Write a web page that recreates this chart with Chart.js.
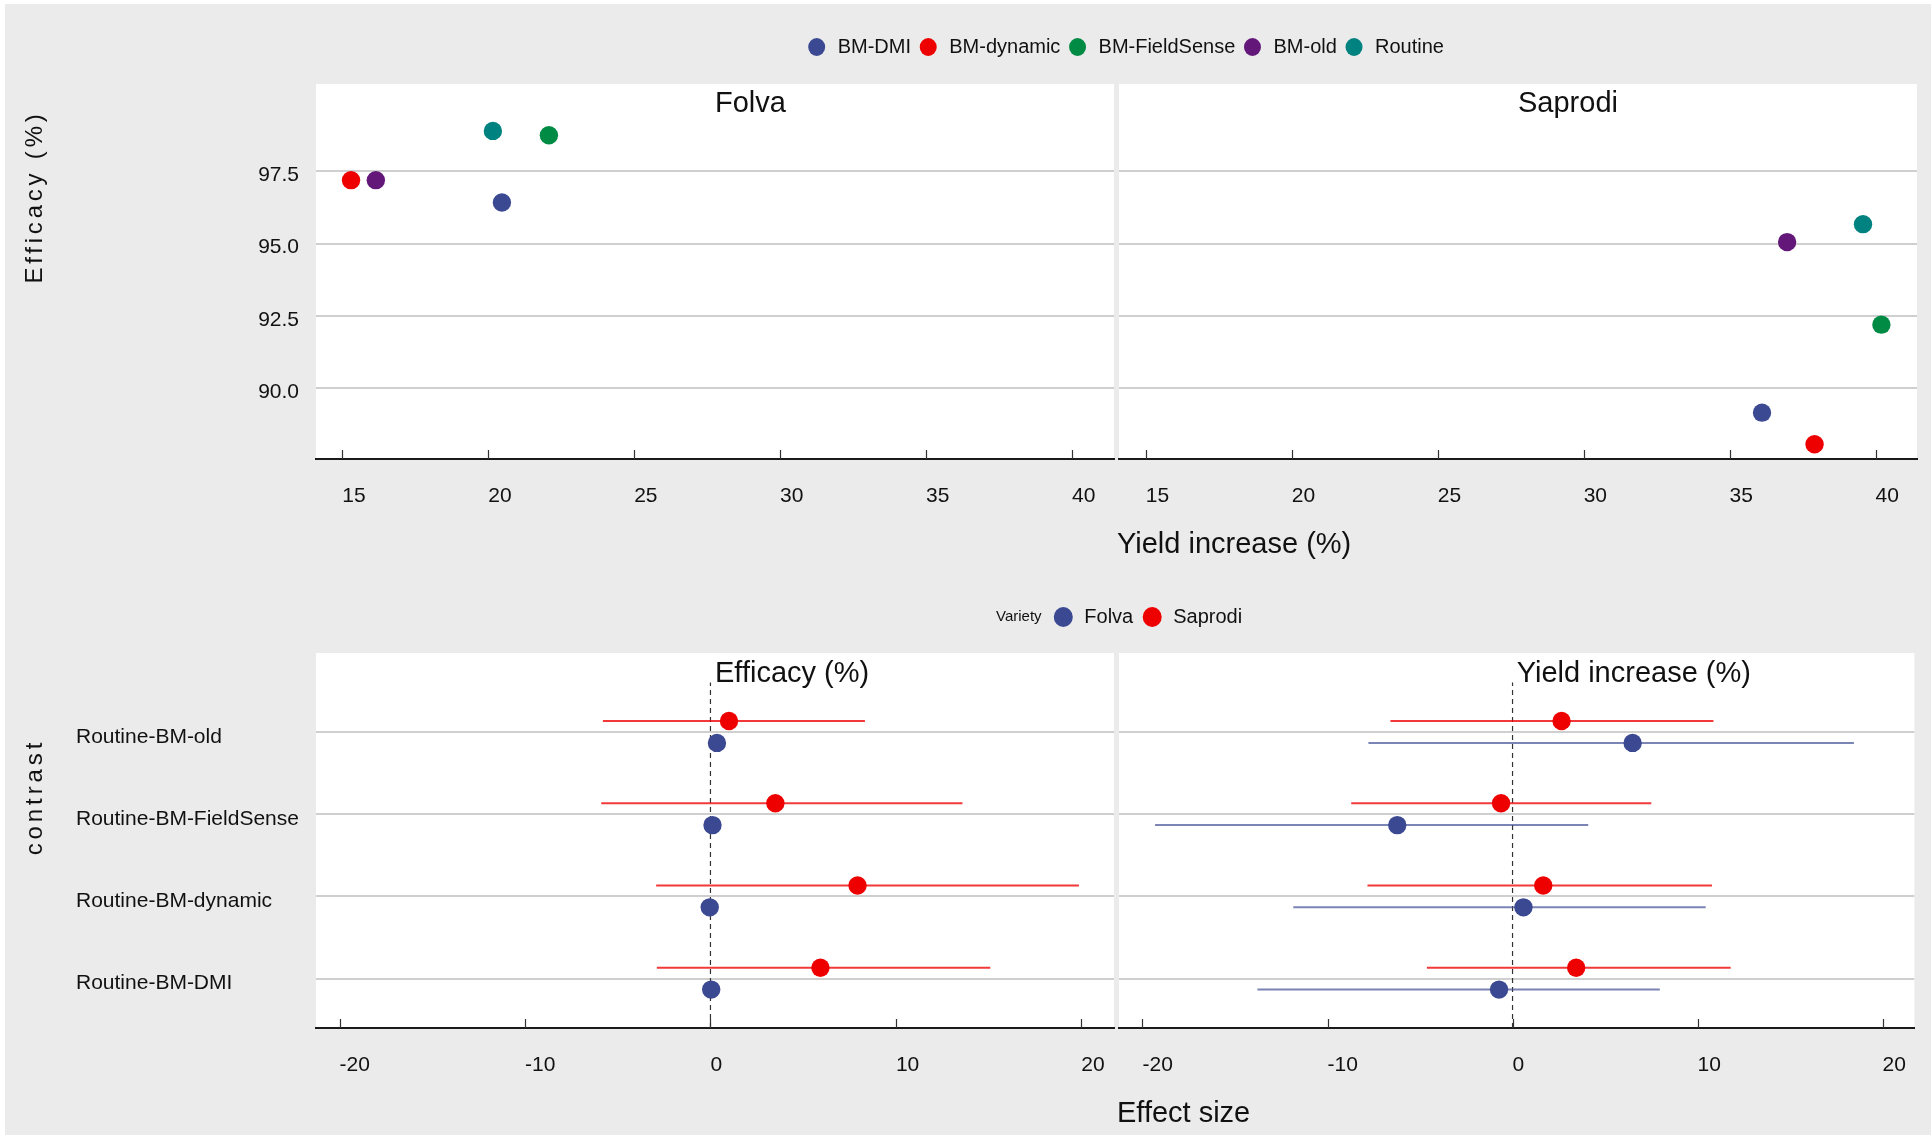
<!DOCTYPE html>
<html>
<head>
<meta charset="utf-8">
<script src="https://cdn.jsdelivr.net/npm/chart.js@4.4.1/dist/chart.umd.min.js"></script>
<style>
html,body{margin:0;padding:0;background:#ffffff;overflow:hidden;}
#wrap{position:relative;width:1931px;height:1135px;background:#ffffff;}
#bg{position:absolute;left:5px;top:4px;right:0;bottom:0;background:#EBEBEB;}
canvas{position:absolute;left:0;}
</style>
</head>
<body>
<div id="wrap">
<div id="bg"></div>
<canvas id="cTL" width="1931" height="580" style="top:0px"></canvas>
<canvas id="cTR" width="1931" height="580" style="top:0px"></canvas>
<canvas id="cBL" width="1931" height="555" style="top:580px"></canvas>
<canvas id="cBR" width="1931" height="555" style="top:580px"></canvas>
</div>
<script>
// ---------------- data ----------------
const treatments = ['BM-DMI', 'BM-dynamic', 'BM-FieldSense', 'BM-old', 'Routine'];
const varieties = ['Folva', 'Saprodi'];
const folvaYield = [20.47, 15.3, 22.08, 16.15, 20.16];
const folvaEfficacy = [96.42, 97.19, 98.74, 97.19, 98.89];
const saprodiYield = [36.11, 37.91, 40.2, 36.97, 39.57];
const saprodiEfficacy = [89.16, 88.07, 92.2, 95.05, 95.67];
const yieldTicks = [15, 20, 25, 30, 35, 40];
const efficacyTicks = [90.0, 92.5, 95.0, 97.5];

const responses = ['Efficacy (%)', 'Yield increase (%)'];
const contrasts = ['Routine-BM-DMI', 'Routine-BM-dynamic', 'Routine-BM-FieldSense', 'Routine-BM-old'];
const effEstFolva = [0.04, -0.04, 0.11, 0.35];
const effLowFolva = [-0.25, -0.33, -0.18, 0.06];
const effHighFolva = [0.33, 0.25, 0.40, 0.64];
const effEstSaprodi = [5.93, 7.93, 3.5, 1.0];
const effLowSaprodi = [-2.89, -2.93, -5.89, -5.8];
const effHighSaprodi = [15.09, 19.87, 13.59, 8.33];
const yldEstFolva = [-0.73, 0.59, -6.23, 6.49];
const yldLowFolva = [-13.79, -11.85, -19.32, -7.79];
const yldHighFolva = [7.96, 10.44, 4.09, 18.45];
const yldEstSaprodi = [3.44, 1.66, -0.62, 2.65];
const yldLowSaprodi = [-4.63, -7.84, -8.72, -6.6];
const yldHighSaprodi = [11.79, 10.78, 7.5, 10.86];
const effectTicks = [-20, -10, 0, 10, 20];

// ---------------- style ----------------
const treatColors = ['#3B4992', '#EE0000', '#008B45', '#631879', '#008280'];
const varColors = ['#3B4992', '#EE0000'];
const varLineColors = ['rgba(59,73,146,0.68)', 'rgba(238,0,0,0.78)'];
const FONT = '"Liberation Sans", Arial, Helvetica, sans-serif';
const TXT = '#111111';
Chart.defaults.font.family = FONT;
Chart.defaults.color = TXT;

function drawText(ctx, txt, x, y, size, o) {
  o = o || {};
  ctx.save();
  ctx.font = size + 'px ' + FONT;
  ctx.fillStyle = o.color || TXT;
  ctx.textAlign = o.align || 'left';
  ctx.textBaseline = o.baseline || 'alphabetic';
  if (o.spacing) { try { ctx.letterSpacing = o.spacing + 'px'; } catch (e) {} }
  ctx.translate(x, y);
  if (o.rotate) ctx.rotate(o.rotate);
  ctx.fillText(txt, 0, 0);
  ctx.restore();
}

function drawLegend(ctx, labels, cols, startX, cy, r, size, gapText, gapItem) {
  let x = startX;
  labels.forEach((l, i) => {
    ctx.save();
    ctx.beginPath();
    ctx.ellipse(x, cy, r, r * 1.06, 0, 0, 2 * Math.PI);
    ctx.fillStyle = cols[i];
    ctx.fill();
    ctx.restore();
    drawText(ctx, l, x + gapText, cy, size, {baseline: 'middle'});
    ctx.save();
    ctx.font = size + 'px ' + FONT;
    const w = ctx.measureText(l).width;
    ctx.restore();
    x = x + gapText + w + gapItem;
  });
}

function panelPlugin(extraDraw) {
  return {
    id: 'panel',
    beforeDraw(chart) {
      const {ctx, chartArea: a} = chart;
      ctx.save();
      ctx.fillStyle = '#ffffff';
      ctx.fillRect(a.left, a.top, a.right - a.left, a.bottom - a.top);
      ctx.restore();
    },
    beforeDatasetsDraw(chart) {
      const {ctx, chartArea: a} = chart;
      const x = chart.scales.x;
      ctx.save();
      ctx.strokeStyle = '#333333';
      ctx.lineWidth = 1.2;
      ctx.beginPath();
      x.ticks.forEach(t => {
        const p = Math.round(x.getPixelForValue(t.value)) + 0.5;
        ctx.moveTo(p, a.bottom);
        ctx.lineTo(p, a.bottom - 9);
      });
      ctx.stroke();
      ctx.restore();
    },
    afterDraw(chart) { if (extraDraw) extraDraw(chart); }
  };
}

function treatmentSets(xs, ys) {
  return treatments.map((t, i) => ({
    label: t,
    data: [{x: xs[i], y: ys[i]}],
    backgroundColor: treatColors[i],
    borderColor: treatColors[i],
    pointRadius: 9.2, pointHoverRadius: 9.2, pointBorderWidth: 0,
    showLine: false
  }));
}

function forestSets(estF, lowF, highF, estS, lowS, highS) {
  const dodge = 0.133;
  const sets = [];
  const groups = [
    {label: varieties[1], est: estS, low: lowS, high: highS, off: dodge, col: varColors[1], line: varLineColors[1]},
    {label: varieties[0], est: estF, low: lowF, high: highF, off: -dodge, col: varColors[0], line: varLineColors[0]}
  ];
  groups.forEach(g => {
    sets.push({
      label: g.label,
      data: contrasts.map((c, i) => ({x: g.est[i], y: i + 1 + g.off})),
      backgroundColor: g.col, borderColor: g.col,
      pointRadius: 9.2, pointHoverRadius: 9.2, pointBorderWidth: 0,
      showLine: false, order: 0
    });
    contrasts.forEach((c, i) => {
      sets.push({
        label: g.label + ' ' + c,
        data: [{x: g.low[i], y: i + 1 + g.off}, {x: g.high[i], y: i + 1 + g.off}],
        showLine: true, borderColor: g.line, borderWidth: 2,
        pointRadius: 0, pointHoverRadius: 0, order: 1
      });
    });
  });
  sets.push({
    label: 'zero',
    data: [{x: 0, y: 0.4}, {x: 0, y: contrasts.length + 0.6}],
    showLine: true, borderColor: '#333333', borderWidth: 1.2, borderDash: [5, 4],
    pointRadius: 0, pointHoverRadius: 0, order: 2
  });
  return sets;
}

function xScale(min, max, ticksArr, height) {
  return {
    type: 'linear', min: min, max: max,
    afterBuildTicks: s => { s.ticks = ticksArr.map(v => ({value: v})); },
    afterFit: s => { s.height = height; },
    grid: {display: false, drawTicks: false},
    border: {display: true, color: '#1a1a1a', width: 2},
    ticks: {align: 'start', padding: 24.5, maxRotation: 0, minRotation: 0, autoSkip: false,
            font: {size: 21}, color: TXT, callback: v => String(v)}
  };
}

function topOptions(isLeft) {
  return {
    responsive: false, animation: false, events: [],
    layout: {padding: isLeft ? {left: 0, right: 817, top: 84, bottom: 0} : {left: 1119, right: 14, top: 84, bottom: 0}},
    plugins: {legend: {display: false}, tooltip: {enabled: false}},
    scales: {
      x: xScale(isLeft ? 14.1 : 14.08, isLeft ? 41.44 : 41.42, yieldTicks, 121),
      y: {
        type: 'linear', min: 87.56, max: 100.51,
        afterBuildTicks: s => { s.ticks = efficacyTicks.map(v => ({value: v})); },
        afterFit: s => { s.width = isLeft ? 316 : 0; },
        grid: {color: '#CFCFCF', lineWidth: 2, drawTicks: false},
        border: {display: false},
        ticks: {display: isLeft, padding: 17, labelOffset: 4, font: {size: 21}, color: TXT,
                callback: v => Number(v).toFixed(1)}
      }
    }
  };
}

function bottomOptions(isLeft) {
  return {
    responsive: false, animation: false, events: [],
    layout: {padding: isLeft ? {left: 76, right: 817, top: 73, bottom: 0} : {left: 1119, right: 14, top: 73, bottom: 0}},
    plugins: {legend: {display: false}, tooltip: {enabled: false}},
    scales: {
      x: xScale(-21.27, isLeft ? 21.76 : 21.72, effectTicks, 107),
      y: {
        type: 'linear', min: 0.4, max: contrasts.length + 0.96,
        afterBuildTicks: s => { s.ticks = contrasts.map((c, i) => ({value: i + 1})); },
        afterFit: s => { s.width = isLeft ? 240 : 0; },
        grid: {color: '#CFCFCF', lineWidth: 2, drawTicks: false},
        border: {display: false},
        ticks: {display: isLeft, crossAlign: 'far', padding: 0, labelOffset: 5, font: {size: 21}, color: TXT,
                callback: v => contrasts[Math.round(v) - 1]}
      }
    }
  };
}

// ---------------- charts ----------------
new Chart(document.getElementById('cTL'), {
  type: 'scatter',
  data: {datasets: treatmentSets(folvaYield, folvaEfficacy)},
  options: topOptions(true),
  plugins: [panelPlugin(chart => {
    const a = chart.chartArea, ctx = chart.ctx;
    drawText(ctx, varieties[0], (a.left + a.right) / 2, a.top + 28, 29);
    drawText(ctx, 'Efficacy (%)', 42, 197, 24, {rotate: -Math.PI / 2, align: 'center', spacing: 3.8});
  })]
});

new Chart(document.getElementById('cTR'), {
  type: 'scatter',
  data: {datasets: treatmentSets(saprodiYield, saprodiEfficacy)},
  options: topOptions(false),
  plugins: [panelPlugin(chart => {
    const a = chart.chartArea, ctx = chart.ctx;
    drawText(ctx, varieties[1], (a.left + a.right) / 2, a.top + 28, 29);
    drawText(ctx, 'Yield increase (%)', 1117, 553, 29);
    drawLegend(ctx, treatments, treatColors, 816.7, 47, 8.5, 20, 21, 17.2);
  })]
});

new Chart(document.getElementById('cBL'), {
  type: 'scatter',
  data: {datasets: forestSets(effEstFolva, effLowFolva, effHighFolva, effEstSaprodi, effLowSaprodi, effHighSaprodi)},
  options: bottomOptions(true),
  plugins: [panelPlugin(chart => {
    const a = chart.chartArea, ctx = chart.ctx;
    drawText(ctx, responses[0], (a.left + a.right) / 2, a.top + 29, 29);
    drawText(ctx, 'contrast', 42, 217, 24, {rotate: -Math.PI / 2, align: 'center', spacing: 3.9});
  })]
});

new Chart(document.getElementById('cBR'), {
  type: 'scatter',
  data: {datasets: forestSets(yldEstFolva, yldLowFolva, yldHighFolva, yldEstSaprodi, yldLowSaprodi, yldHighSaprodi)},
  options: bottomOptions(false),
  plugins: [panelPlugin(chart => {
    const a = chart.chartArea, ctx = chart.ctx;
    drawText(ctx, responses[1], (a.left + a.right) / 2, a.top + 29, 29);
    drawText(ctx, 'Effect size', 1117, 542, 29);
    drawText(ctx, 'Variety', 996, 37, 15, {baseline: 'middle'});
    drawLegend(ctx, varieties, varColors, 1063.3, 37, 9.5, 20, 21, 19);
  })]
});
</script>
</body>
</html>
